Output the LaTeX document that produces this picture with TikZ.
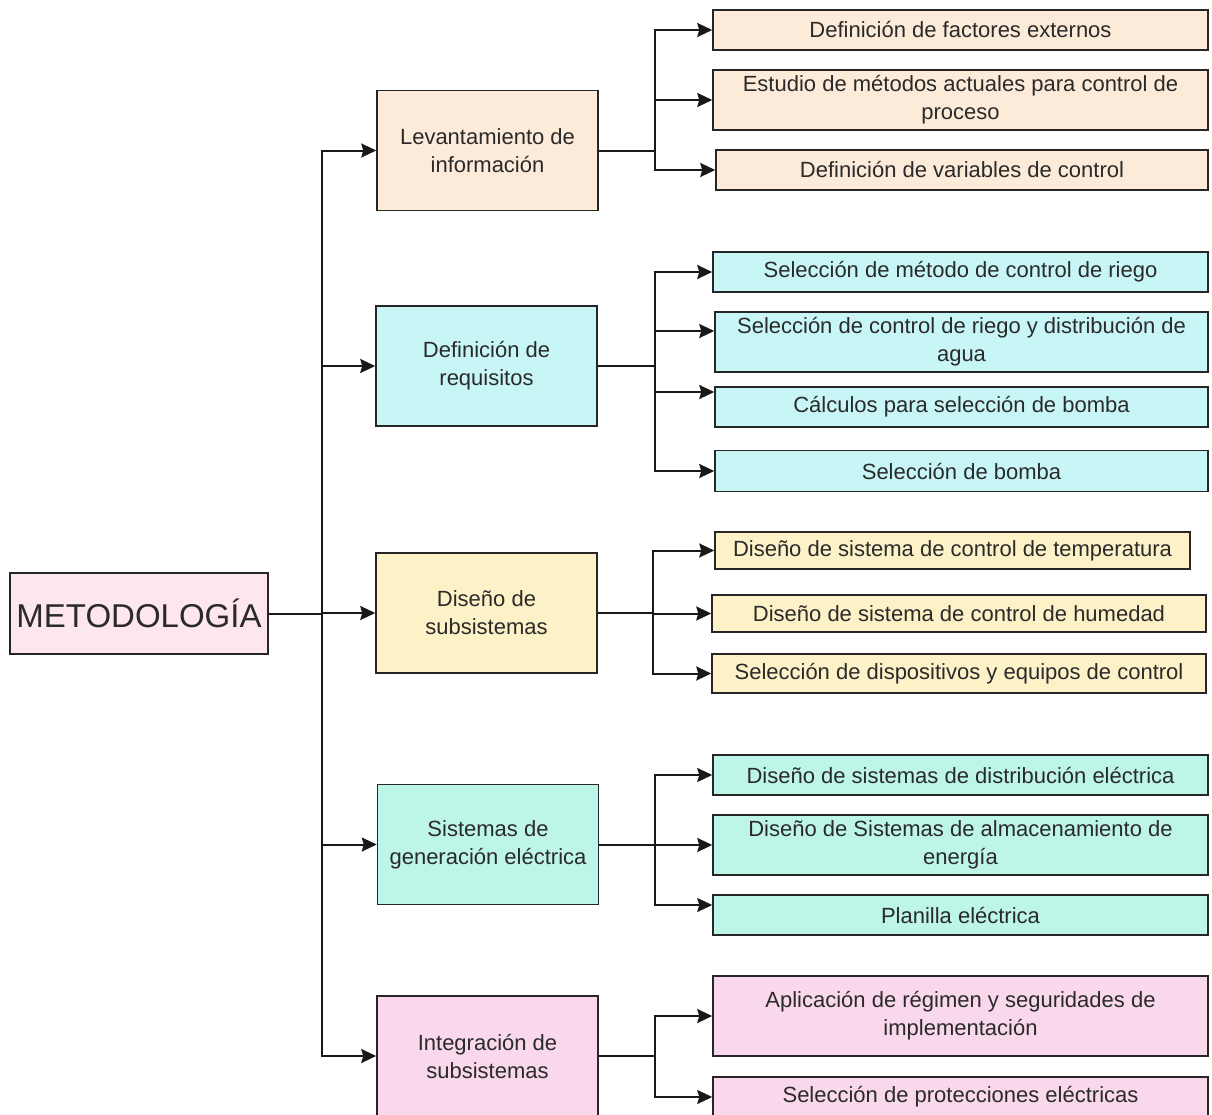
\documentclass[tikz,border=0pt]{standalone}
\usepackage{fontspec}
\setmainfont{Liberation Sans}
\usepackage{xcolor}
\usetikzlibrary{arrows.meta}

\definecolor{rosaMeto}{HTML}{FDE6EE}
\definecolor{durazno}{HTML}{FCEBD9}
\definecolor{celeste}{HTML}{C8F6F7}
\definecolor{amarillo}{HTML}{FCF1C7}
\definecolor{aguamarina}{HTML}{BDF5E8}
\definecolor{rosa}{HTML}{F9D8EC}
\definecolor{texto}{HTML}{2A2A2A}

\begin{document}
\begin{tikzpicture}[x=1pt,y=-1pt,
		caja/.style={draw=black!85,line width=1.5pt,inner sep=0pt,align=center,text=texto,font=\fontsize{22}{28}\selectfont},
		etapa/.style={caja,minimum width=221pt,minimum height=120pt},
		tarea/.style={caja,minimum width=495pt,minimum height=40pt},
		flecha/.style={line width=2pt,draw=black!90,-{Stealth[length=15pt,width=14pt,inset=2pt]}}
	]
	\useasboundingbox (0,0) rectangle (1212,1114);
	\node[caja,fill=rosaMeto,minimum width=258pt,minimum height=81pt,font=\fontsize{33}{36}\selectfont] (meto) at (139,613.5) {METODOLOGÍA};

	\node[etapa,fill=durazno] (levant) at (487.5,150.5) {Levantamiento de\\información};
	\node[etapa,fill=celeste] (requis) at (486.5,366) {Definición de\\requisitos};
	\node[etapa,fill=amarillo] (disenio) at (486.5,613) {Diseño de\\subsistemas};
	\node[etapa,fill=aguamarina] (genera) at (488,844.5) {Sistemas de\\generación eléctrica};
	\node[etapa,fill=rosa] (integra) at (487.5,1056) {Integración de\\subsistemas};

	\node[tarea,fill=durazno] (factores) at (960.5,30) {Definición de factores externos};
	\node[tarea,fill=durazno,minimum height=60pt] (metodos) at (960.5,100) {Estudio de métodos actuales para control de\\proceso};
	\node[tarea,fill=durazno,minimum width=492pt] (variables) at (962,170) {Definición de variables de control};

	\node[tarea,fill=celeste] (metodoriego) at (960.5,272) {Selección de método de control de riego};
	\node[tarea,fill=celeste,minimum width=493pt,minimum height=60pt] (distrib) at (961.5,342) {Selección de control de riego y distribución de\\agua};
	\node[tarea,fill=celeste,minimum width=493pt] (calculos) at (961.5,407) {Cálculos para selección de bomba};
	\node[tarea,fill=celeste,minimum width=493pt,minimum height=41pt] (bomba) at (961.5,471) {Selección de bomba};

	\node[tarea,fill=amarillo,minimum width=475pt,minimum height=37pt] (temper) at (952.5,550.5) {Diseño de sistema de control de temperatura};
	\node[tarea,fill=amarillo,minimum width=494pt,minimum height=37pt] (humedad) at (959,613.5) {Diseño de sistema de control de humedad};
	\node[tarea,fill=amarillo,minimum width=494pt,minimum height=39pt] (dispos) at (959,673.5) {Selección de dispositivos y equipos de control};

	\node[tarea,fill=aguamarina] (distelec) at (960.5,775) {Diseño de sistemas de distribución eléctrica};
	\node[tarea,fill=aguamarina,minimum height=60pt] (almacen) at (960.5,845) {Diseño de Sistemas de almacenamiento de\\energía};
	\node[tarea,fill=aguamarina] (planilla) at (960.5,915) {Planilla eléctrica};

	\node[tarea,fill=rosa,minimum height=80pt] (regimen) at (960.5,1016) {Aplicación de régimen y seguridades de\\implementación};
	\node[tarea,fill=rosa] (protec) at (960.5,1097) {Selección de protecciones eléctricas};

	\coordinate (tronco) at (322,0);
	\coordinate (rama) at (655,0);

	\foreach \e in {levant,requis,disenio,genera,integra}
		\draw[flecha] (meto.east) -- (meto.east -| tronco) |- (\e.west);

	\foreach \t in {factores,metodos,variables}
		\draw[flecha] (levant.east) -- (levant.east -| rama) |- (\t.west);
	\foreach \t/\d in {metodoriego/0,distrib/11,calculos/15,bomba/0}
		\draw[flecha] (requis.east) -- (requis.east -| rama) |- ([yshift=\d pt]\t.west);
	\foreach \t in {temper,humedad,dispos}
		\draw[flecha] (disenio.east) -- ([xshift=-2pt]disenio.east -| rama) |- (\t.west);
	\foreach \t/\d in {distelec/0,almacen/0,planilla/10}
		\draw[flecha] (genera.east) -- (genera.east -| rama) |- ([yshift=\d pt]\t.west);
	\foreach \t in {regimen,protec}
		\draw[flecha] (integra.east) -- (integra.east -| rama) |- (\t.west);
\end{tikzpicture}
\end{document}
